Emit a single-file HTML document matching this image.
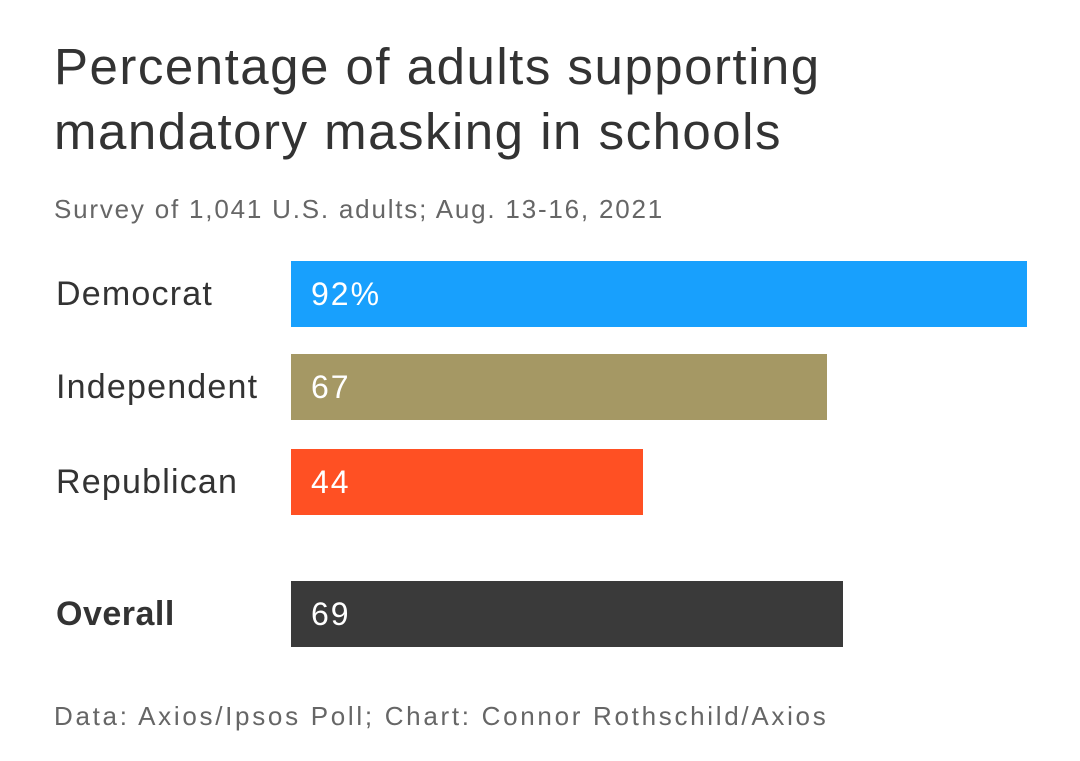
<!DOCTYPE html>
<html><head><meta charset="utf-8"><style>
body{margin:0;width:1080px;height:761px;background:#fff;font-family:"Liberation Sans",sans-serif;overflow:hidden;position:relative}
.t{position:absolute;left:54px;top:34px;font-size:51px;line-height:65px;color:#333;margin:0;font-weight:normal;letter-spacing:1.5px}
.s{position:absolute;left:54px;top:194px;font-size:26px;color:#666;letter-spacing:1.8px}
.f{position:absolute;left:54px;top:701px;font-size:26px;color:#666;letter-spacing:2.7px}
</style></head><body>
<h1 class="t">Percentage of adults supporting<br>mandatory masking in schools</h1>
<div class="s">Survey of 1,041 U.S. adults; Aug. 13-16, 2021</div>
<svg id="chart" width="1080" height="761" style="position:absolute;left:0;top:0"></svg>
<div class="f">Data: Axios/Ipsos Poll; Chart: Connor Rothschild/Axios</div>
<script>
const categories=["Democrat","Independent","Republican","Overall"];
const values=[92,67,44,69];
const valueLabels=["92%","67","44","69"];
const colors=["#18a0fd","#a59864","#ff5023","#3a3a3a"];
const x0=291, unit=8;
const rowTops=[261,354,449,581];
function xs(v){return v*unit;}
const svg=document.getElementById('chart');
const ns='http://www.w3.org/2000/svg';
categories.forEach((c,i)=>{
  const y=rowTops[i], h=66;
  const r=document.createElementNS(ns,'rect');
  r.setAttribute('x',x0);r.setAttribute('y',y);r.setAttribute('width',xs(values[i]));r.setAttribute('height',h);r.setAttribute('fill',colors[i]);
  
  
  svg.appendChild(r);
  const l=document.createElementNS(ns,'text');
  l.setAttribute('x',56);l.setAttribute('y',y+h/2+11);l.setAttribute('font-size','34');l.setAttribute('fill','#333');l.setAttribute('letter-spacing','1.2');
  if(i===3){l.setAttribute('font-weight','bold');l.setAttribute('letter-spacing','0.5');}
  l.textContent=c;
  
  
  svg.appendChild(l);
  const v=document.createElementNS(ns,'text');
  v.setAttribute('x',311);v.setAttribute('y',y+h/2+11);v.setAttribute('font-size','32');v.setAttribute('fill','#fff');v.setAttribute('letter-spacing','2');
  v.textContent=valueLabels[i];
  
  
  svg.appendChild(v);
});
</script>
</body></html>
